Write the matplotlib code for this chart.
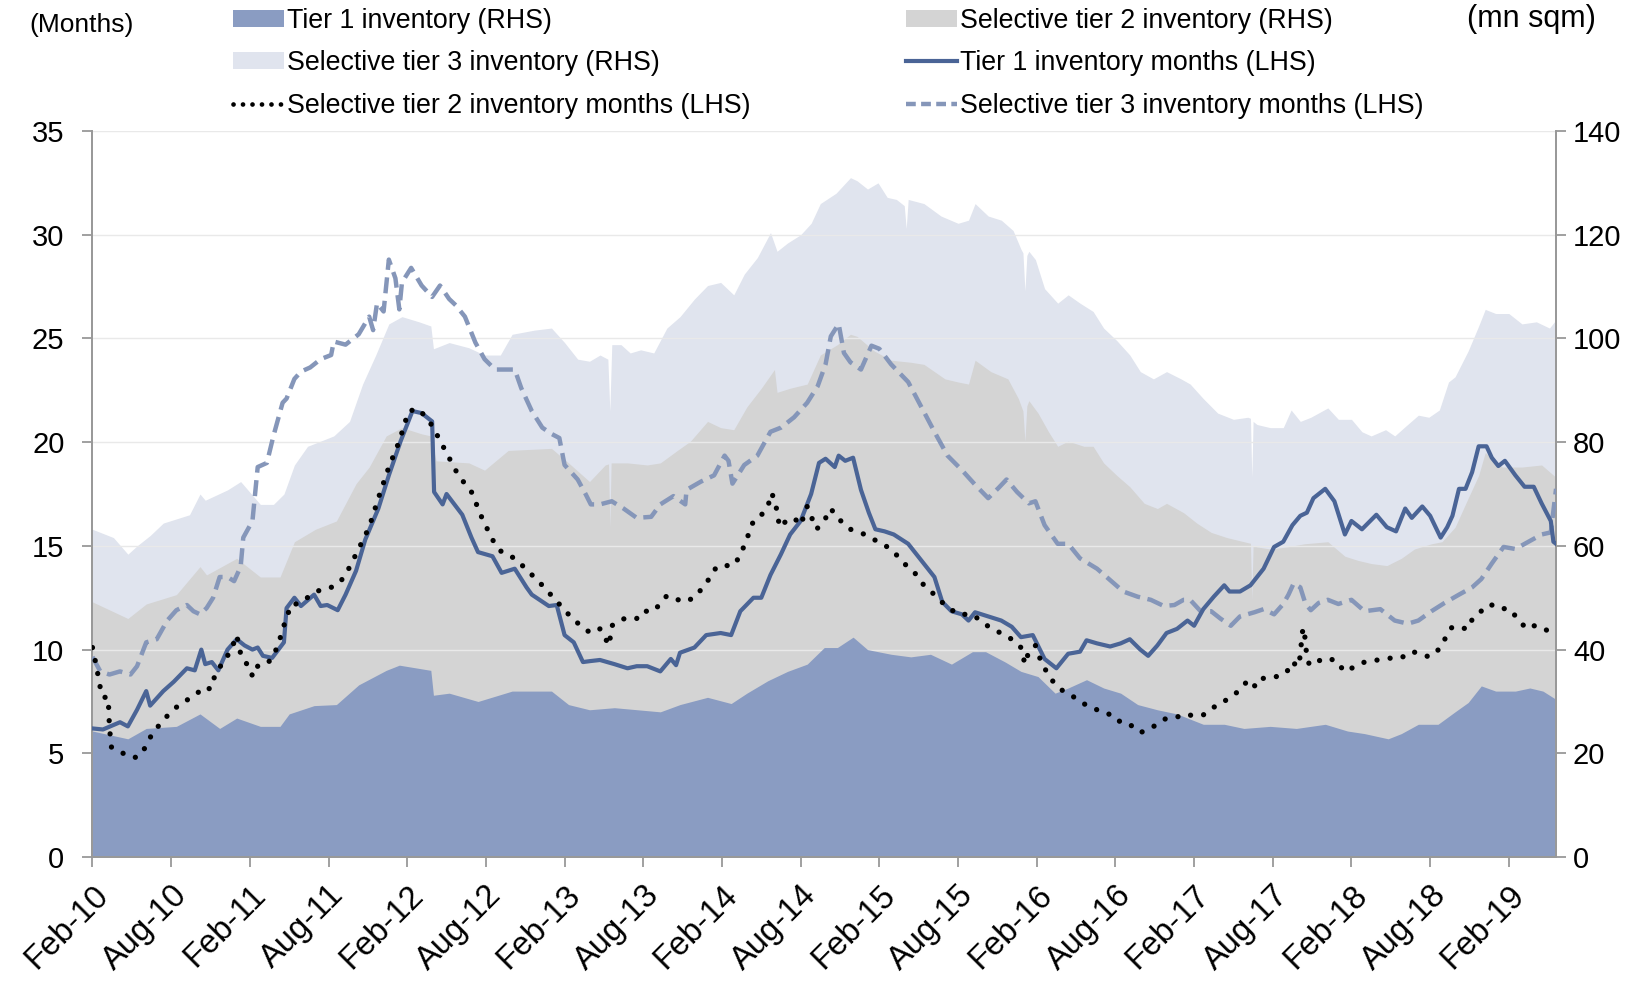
import matplotlib
matplotlib.use("Agg")
import matplotlib.pyplot as plt
from matplotlib.lines import Line2D
from matplotlib.patches import Patch
from matplotlib.transforms import ScaledTranslation

plt.rcParams['font.family'] = ['Liberation Sans', 'DejaVu Sans']

# ---------------- data (x = months since Feb-2010) ----------------
tick_pos = [0, 6, 12, 18, 24, 30, 36, 42, 48, 54, 60, 66, 72, 78, 84, 90, 96, 102, 108]
tick_labels = ["Feb-10", "Aug-10", "Feb-11", "Aug-11", "Feb-12", "Aug-12", "Feb-13",
               "Aug-13", "Feb-14", "Aug-14", "Feb-15", "Aug-15", "Feb-16", "Aug-16",
               "Feb-17", "Aug-17", "Feb-18", "Aug-18", "Feb-19"]

# Tier 1 inventory (mn sqm, RHS)
t1_inv_x = [0, 2.7, 4.1, 6.4, 8.2, 9.7, 11, 12.8, 14.3, 15, 16.9, 18.6, 20.3, 22.4, 23.4,
            25.8, 26.0, 27.2, 29.4, 32, 35, 36.3, 37.9, 39.8, 43.3, 44.8, 46.9, 48.7, 49.9,
            51.5, 53, 54.5, 55.8, 56.8, 58, 59.1, 60.9, 62.4, 63.9, 65.5, 67.1, 68.1, 69.6,
            70.8, 72.1, 73.4, 74.4, 75.8, 77.1, 78.4, 79.7, 81.2, 82.7, 84.7, 86.3, 87.8,
            89.8, 91.8, 94, 95.7, 97, 98.8, 99.8, 101.1, 102.6, 103.9, 104.9, 105.9, 107,
            108.5, 109.6, 110.6, 111.6]
t1_inv = [24.3, 22.8, 24.8, 25.2, 27.6, 24.8, 26.8, 25.2, 25.2, 27.6, 29.2, 29.4, 33.2, 36.0, 37.0,
          36.0, 31.2, 31.6, 30.0, 32.0, 32.0, 29.4, 28.4, 28.8, 28.0, 29.4, 30.8, 29.6, 31.6,
          34.0, 35.8, 37.2, 40.4, 40.4, 42.4, 40.0, 39.1, 38.6, 39.1, 37.2, 39.6, 39.6, 37.6,
          35.8, 34.8, 31.6, 32.6, 34.2, 32.6, 31.6, 29.4, 28.4, 27.6, 25.6, 25.6, 24.8,
          25.2, 24.8, 25.6, 24.3, 23.8, 22.8, 23.8, 25.6, 25.6, 28.0, 29.8, 33.0, 32.0,
          32.0, 32.6, 32.0, 30.4]

# Selective tier 2 inventory (mn sqm, RHS)
t2_inv_x = [0, 2.7, 4.1, 6.4, 8.2, 8.7, 11, 12.8, 14.3, 15.4, 17, 18.6, 20.1, 21.1, 22.4, 23.6,
            25.1, 25.8, 26.2, 28.7, 29.9, 31.7, 35, 36.3, 37.9, 39.1, 39.35, 39.45, 39.55, 39.8,
            40.8, 42.3, 43.3, 44.6, 45.6, 46.9, 47.9, 48.9, 49.9, 51, 52, 52.2, 53.2, 54.5,
            55.5, 56.8, 57.8, 58.3, 59.6, 60.9, 62.4, 63.4, 65, 66, 66.8, 67.3, 68.5, 69.8,
            70.6, 70.95, 71.1, 71.25, 71.4, 72.1, 72.9, 73.6, 74.4, 75.6, 76.3, 77.1, 78.1,
            79.1, 80.2, 81.2, 81.9, 83.2, 84.2, 85.3, 86.5, 87.8, 88.3, 88.4, 88.5, 88.8,
            89.8, 91.1, 92.4, 94.2, 95.5, 96.5, 97.5, 98.7, 99.8, 100.8, 102.1, 102.9,
            103.9, 104.9, 105.7, 106.2, 107.5, 109, 110.5, 111.6]
t2_inv = [49.2, 46.0, 48.8, 50.6, 56.0, 54.4, 57.6, 54.0, 54.0, 60.8, 63.2, 64.8, 72.0, 75.2, 81.2, 82.8,
          81.6, 81.2, 76.4, 76.0, 74.6, 78.4, 78.8, 76.0, 72.4, 75.6, 75.8, 63.6, 76.0, 76.0,
          76.0, 75.6, 76.0, 78.4, 80.2, 84.0, 82.8, 82.4, 86.8, 90.4, 94.0, 89.6, 90.4, 91.2,
          96.8, 98.8, 100.8, 100.4, 97.6, 95.8, 95.4, 95.0, 92.2, 91.6, 91.2, 95.8, 93.6, 92.2,
          88.4, 86.0, 80.2, 87.0, 88.0, 85.6, 82.0, 79.2, 80.2, 79.2, 79.2, 76.0, 73.6,
          71.4, 68.2, 67.2, 68.2, 66.4, 64.4, 62.6, 61.6, 60.8, 60.5, 49.6, 60.0, 59.8,
          59.4, 59.8, 60.4, 60.8, 58.0, 57.2, 56.6, 56.2, 57.6, 59.4, 60.4, 60.8,
          63.6, 69.2, 73.6, 78.0, 75.2, 75.2, 75.6, 73.2]

# Selective tier 3 inventory (mn sqm, RHS)
t3_inv_x = [0, 1.6, 2.7, 3.4, 4.4, 5.4, 7.4, 8.2, 8.6, 10.3, 11.3, 12.8, 13.8, 14.6, 15.4, 16.4,
            18.4, 19.6, 20.6, 21.6, 22.6, 23.6, 24.9, 25.8, 26.0, 27.2, 28.7, 29.9, 31.1, 32,
            33.7, 35, 36, 37, 37.9, 38.7, 39.3, 39.45, 39.6, 40.3, 41, 41.8, 42.8, 43.8, 44.8,
            45.9, 46.9, 47.9, 48.9, 49.7, 50.7, 51.7, 52.2, 53, 54, 54.8, 55.5, 56.7, 57.8,
            58.3, 59.1, 59.9, 60.6, 61.3, 61.9, 62.05, 62.2, 63.4, 64.7, 66, 66.8, 67.3, 68.3,
            69.3, 70.2, 70.8, 70.95, 71.1, 71.25, 71.4, 71.9, 72.6, 73.6, 74.4, 75.3, 76.3,
            77.1, 78.1, 79.1, 79.9, 80.9, 81.9, 83, 83.7, 84.7, 85.8, 87, 88.1, 88.3, 88.4,
            88.5, 88.8, 89.8, 90.8, 91.4, 92.1, 92.9, 94.2, 95, 96, 96.8, 97.5, 98.6, 99.3,
            100.1, 101.1, 101.9, 102.7, 103.4, 103.9, 104.9, 105.7, 106.2, 107, 108, 109,
            110.1, 111.1, 111.6]
t3_inv = [63.2, 61.6, 58.4, 60.0, 62.0, 64.4, 66.0, 70.0, 68.8, 70.8, 72.4, 68.0, 68.0, 70.0, 75.6, 79.2,
          81.2, 84.0, 91.2, 96.8, 102.8, 104.2, 103.2, 102.4, 98.0, 99.2, 98.2, 96.8, 96.8, 100.8,
          101.6, 102.0, 99.2, 96.0, 95.6, 96.8, 96.0, 86.0, 98.8, 98.8, 97.2, 97.8, 97.2, 102.0, 104.2,
          107.6, 110.2, 110.8, 108.4, 112.4, 115.6, 120.4, 116.8, 118.4, 120.0, 122.2, 126.0, 128.0, 131.0,
          130.4, 128.8, 130.0, 127.2, 126.8, 125.6, 121.2, 126.8, 126.0, 123.6, 122.2, 122.8, 126.0, 123.6,
          122.8, 120.8, 117.2, 116.5, 109.2, 116.0, 116.8, 115.2, 109.6, 106.8, 108.4, 106.8, 105.2,
          102.0, 99.6, 96.8, 93.6, 92.2, 93.6, 92.2, 91.2, 88.4, 85.6, 84.4, 84.8, 84.6, 73.2,
          84.0, 83.4, 82.8, 82.8, 86.2, 84.0, 84.8, 86.6, 84.4, 84.4, 82.0, 81.2, 82.4, 81.2,
          83.0, 85.2, 84.8, 86.2, 91.6, 92.6, 97.6, 102.4, 105.6, 104.8, 104.8, 102.8,
          103.2, 102.0, 103.6]

# Tier 1 inventory months (LHS)
t1_mon_x = [0, 0.8, 2.1, 2.7, 3.4, 4.1, 4.4, 5.4, 6.2, 7.2, 7.8, 8.3, 8.6, 9.1, 9.6, 10.3, 11,
            11.6, 12.2, 12.6, 13, 13.7, 14.6, 14.8, 15.4, 15.9, 16.9, 17.4, 17.9, 18.7, 19.3,
            20.1, 20.8, 21.8, 22.6, 23.5, 24.4, 25.1, 25.9, 26.05, 26.7, 27.0, 28.2, 28.9,
            29.4, 30.5, 31.2, 32.2, 33.1, 33.5, 34.8, 35.4, 36, 36.7, 37.4, 38, 38.7, 39.8,
            40.8, 41.5, 42.3, 43.3, 44.1, 44.5, 44.8, 45.9, 46.8, 47.9, 48.7, 49.4, 50.4, 51,
            51.7, 52.5, 53.2, 54, 54.8, 55.4, 55.9, 56.6, 56.9, 57.4, 58, 58.6, 59.2, 59.7,
            60.4, 61.1, 62.2, 63.2, 64.2, 64.8, 65.5, 66.3, 66.8, 67.3, 68.3, 69.3, 70.1,
            70.8, 71.7, 72.6, 73.5, 74.4, 75.3, 75.8, 76.6, 77.6, 78.4, 79.1, 79.9, 80.5,
            81.2, 81.9, 82.7, 83.5, 84, 84.7, 85.5, 86.3, 86.7, 87.5, 88.3, 89.3, 90.1, 90.8,
            91.5, 92.1, 92.6, 93.1, 94, 94.7, 95.1, 95.5, 96, 96.8, 97.9, 98.7, 99.4, 100.1,
            100.6, 101.4, 102, 102.5, 102.8, 103.3, 103.7, 104.2, 104.7, 105.2, 105.7, 106.3,
            106.7, 107.2, 107.7, 108.5, 109.2, 109.9, 110.5, 111.2, 111.4, 111.6]
t1_mon = [6.2, 6.15, 6.5, 6.3, 7.1, 8.0, 7.3, 8.0, 8.45, 9.1, 9.0, 10.0, 9.3, 9.4, 9.0, 10.0, 10.5,
          10.2, 10.0, 10.1, 9.7, 9.6, 10.35, 12.0, 12.5, 12.1, 12.65, 12.1, 12.15, 11.9, 12.65,
          13.8, 15.3, 16.8, 18.4, 20.05, 21.5, 21.4, 21.0, 17.6, 17.0, 17.5, 16.5, 15.4,
          14.7, 14.5, 13.7, 13.9, 13.0, 12.65, 12.1, 12.15, 10.7, 10.35, 9.4, 9.45, 9.5, 9.3,
          9.1, 9.2, 9.2, 8.95, 9.55, 9.25, 9.85, 10.1, 10.7, 10.8, 10.7, 11.85, 12.5, 12.5,
          13.6, 14.6, 15.55, 16.2, 17.5, 19.0, 19.2, 18.8, 19.35, 19.1, 19.25, 17.7, 16.6, 15.8,
          15.7, 15.55, 15.1, 14.3, 13.5, 12.3, 11.85, 11.7, 11.4, 11.8, 11.6, 11.4, 11.1,
          10.6, 10.7, 9.55, 9.1, 9.8, 9.9, 10.45, 10.3, 10.15, 10.3, 10.5, 10.0, 9.7,
          10.2, 10.8, 11.0, 11.4, 11.15, 11.95, 12.55, 13.1, 12.8, 12.8, 13.1, 13.9, 14.95, 15.2,
          16.0, 16.45, 16.6, 17.3, 17.75, 17.15, 16.35, 15.55, 16.2, 15.8, 16.5, 15.9, 15.7, 16.8,
          16.35, 16.9, 16.45, 15.8, 15.4, 15.9, 16.45, 17.75, 17.75, 18.55, 19.8, 19.8,
          19.25, 18.85, 19.1, 18.4, 17.85, 17.85, 17.05, 16.2, 15.2, 15.1]

# Selective tier 2 inventory months (LHS)
t2_mon_x = [0, 0.3, 0.6, 0.8, 1.2, 1.3, 1.45, 2.1, 2.7, 3.4, 3.9, 4.6, 5.7, 6.7, 7.3, 8, 8.5, 9.0,
            9.2, 9.6, 10, 10.5, 11, 11.3, 11.6, 12, 12.2, 12.6, 13, 13.6, 14, 14.5, 14.7, 15.2,
            15.6, 16.1, 16.8, 17.4, 18.2, 18.8, 19.3, 20.1, 21.1, 21.8, 22.6, 23.4, 24.1, 24.9,
            25.9, 26.9, 27.9, 28.9, 29.7, 30.5, 31.2, 32.2, 33.2, 34.3, 35.3, 36.3, 37.3, 38,
            38.7, 39.4, 39.6, 40.3, 41, 41.5, 41.9, 42.8, 43.8, 45.1, 45.9, 46.8, 47.6, 48.4,
            49, 49.7, 50.4, 51.2, 51.6, 51.8, 52.1, 52.4, 52.9, 53.5, 54, 54.5, 55.2, 55.7,
            56.3, 56.8, 57.8, 58.9, 59.9, 60.9, 61.9, 62.7, 63.4, 64.2, 65, 66, 67.1, 68.1,
            69.1, 70.1, 70.8, 71.1, 71.4, 71.9, 72.4, 73.2, 73.8, 74.4, 75.2, 75.8, 76.6, 77.4,
            78.1, 78.7, 79.3, 79.9, 80.5, 81.2, 81.9, 82.7, 83.3, 84, 84.7, 85.4, 86, 86.5,
            87.2, 87.7, 88.2, 88.7, 89.2, 89.8, 90.5, 91.1, 91.4, 92, 92.15, 92.3, 92.45, 92.6,
            92.8, 93.2, 94.2, 95, 95.4, 96, 97, 98, 99.1, 99.8, 100.5, 101.1, 101.9, 102.5,
            103, 103.3, 103.7, 104.3, 104.9, 105.2, 105.7, 106.2, 106.7, 107.4, 107.9, 108.4,
            108.9, 109.4, 109.9, 110.5, 111.2]
t2_mon = [10.1, 9.2, 8.15, 7.7, 7.7, 6.2, 5.3, 5.1, 4.85, 4.8, 5.15, 6.0, 6.8, 7.4, 7.6, 7.9, 8.2, 8.1,
          8.55, 9.0, 9.5, 9.85, 10.7, 9.8, 9.4, 9.2, 8.7, 9.2, 9.2, 9.5, 10.0, 10.9, 11.4, 12.2,
          12.2, 12.4, 12.65, 12.9, 13.0, 13.2, 13.6, 14.6, 15.9, 17.3, 18.8, 20.05, 21.5, 21.6,
          20.8, 19.6, 18.4, 17.6, 16.35, 15.3, 14.7, 14.4, 13.8, 13.1, 12.4, 11.7, 11.1, 10.8,
          11.0, 10.2, 11.15, 11.45, 11.55, 11.5, 11.85, 11.85, 12.6, 12.3, 12.5, 13.2, 14.0, 14.05,
          14.1, 15.0, 16.2, 16.6, 17.1, 17.55, 17.0, 15.9, 16.2, 16.35, 16.0, 16.9, 15.8, 16.1,
          16.8, 16.35, 15.8, 15.55, 15.2, 14.85, 14.15, 13.7, 13.1, 12.65, 12.15, 11.7, 11.7, 11.2,
          10.85, 10.5, 10.1, 9.3, 9.9, 10.2, 9.3, 8.5, 8.1, 7.85, 7.6, 7.3, 7.1, 6.95,
          6.55, 6.55, 6.3, 6.0, 6.15, 6.4, 6.7, 6.75, 6.9, 6.8, 6.85, 7.2, 7.35, 7.6,
          7.9, 8.25, 8.55, 8.2, 8.6, 8.7, 8.7, 8.95, 9.4, 9.2, 10.1, 11.05, 10.6, 9.65,
          9.25, 9.4, 9.6, 9.4, 8.95, 9.1, 9.4, 9.5, 9.6, 9.6, 9.9, 9.85, 9.65, 9.9,
          10.3, 10.8, 11.1, 11.05, 11.0, 11.45, 11.7, 12.1, 12.15, 11.95, 12.0, 11.7,
          11.3, 11.0, 11.15, 11.1, 10.8]

# Selective tier 3 inventory months (LHS)
t3_mon_x = [0, 0.6, 1.3, 2.1, 2.9, 3.4, 4.1, 4.9, 5.7, 6.4, 7.2, 7.7, 8.2, 8.7, 9.2, 9.7, 10.3,
            10.8, 11.3, 11.5, 12.2, 12.6, 13.3, 13.8, 14.5, 14.8, 15.4, 15.9, 16.6, 17.4, 18.2,
            18.4, 19.3, 20.3, 21.1, 21.4, 21.7, 22.2, 22.6, 23.1, 23.4, 23.6, 24.3, 25.1, 25.9,
            26.5, 27.2, 27.7, 28.4, 29.2, 29.9, 30.7, 31.5, 32.2, 32.7, 33.5, 34.3, 35, 35.6,
            36, 37, 37.6, 38, 38.7, 39.6, 40.5, 41.5, 42.6, 43.3, 44.3, 45.2, 45.3, 46.4, 47.4,
            48.2, 48.5, 48.8, 49.7, 50.7, 51.7, 52.5, 53.5, 54.5, 55.3, 55.9, 56.3, 56.9, 57.3,
            57.8, 58.6, 59.4, 60, 60.9, 62.2, 63.2, 64.2, 65.2, 66.3, 67.3, 68.3, 69.1, 69.7,
            70.5, 71.4, 71.9, 72.6, 73.6, 74.4, 75.3, 76.6, 77.6, 78.6, 79.7, 80.7, 81.7, 82.5,
            83.2, 83.7, 84.5, 85.3, 86, 86.8, 87.5, 88.6, 89.3, 90.1, 90.8, 91.2, 91.6, 92.1,
            92.5, 92.9, 93.5, 94.2, 95, 96, 97, 98.2, 99.3, 100.3, 101.1, 102.1, 103.1, 104.2,
            105.2, 105.9, 106.7, 107.6, 108.5, 109.5, 110.5, 111.2, 111.6]
t3_mon = [9.65, 8.95, 8.8, 8.95, 8.8, 9.2, 10.35, 10.5, 11.4, 11.9, 12.15, 11.85, 11.7, 12.0, 12.5, 13.5, 13.5,
          13.3, 14.0, 15.4, 16.2, 18.8, 19.0, 20.3, 21.9, 22.1, 23.05, 23.4, 23.6, 24.0, 24.2,
          24.85, 24.7, 25.2, 26.05, 25.4, 26.7, 26.3, 28.8, 27.9, 26.4, 27.7, 28.4, 27.55, 27.0,
          27.55, 26.9, 26.6, 26.05, 24.8, 24.0, 23.5, 23.5, 23.5, 22.6, 21.5, 20.7, 20.4, 20.2,
          18.9, 18.2, 17.5, 17.0, 17.0, 17.15, 16.8, 16.35, 16.4, 17.0, 17.4, 17.0, 17.7, 18.1, 18.4,
          19.35, 19.1, 18.0, 18.9, 19.35, 20.5, 20.7, 21.2, 21.9, 22.7, 23.75, 25.1, 25.7, 24.3,
          23.85, 23.5, 24.65, 24.5, 23.75, 22.9, 21.7, 20.5, 19.35, 18.65, 17.95, 17.3, 17.8, 18.2,
          17.6, 17.05, 17.15, 16.0, 15.1, 15.1, 14.4, 13.9, 13.35, 12.8, 12.55, 12.4, 12.1, 12.15,
          12.4, 12.4, 11.85, 11.85, 11.5, 11.15, 11.6, 11.8, 11.95, 11.7, 12.2, 12.65, 13.2, 13.0,
          12.2, 11.9, 12.25, 12.4, 12.2, 12.4, 11.85, 11.95, 11.4, 11.25, 11.4, 11.85, 12.25, 12.65,
          13.0, 13.4, 14.15, 14.95, 14.85, 15.2, 15.55, 15.65, 17.75]

# ---------------- styling ----------------
C_T1 = '#8a9cc2'
C_T2 = '#d4d4d4'
C_T3 = '#e0e4ee'
C_L1 = '#4a6496'
C_L3 = '#8596b9'
C_AX = '#999999'
FS_LEG = 19.3
FS_TICK = 21
FS_XTICK = 23.5

fig = plt.figure(figsize=(16.48, 9.84), dpi=100)
ax = fig.add_axes([0.0561, 0.129, 0.8881, 0.7379])
ax2 = ax.twinx()

ax2.fill_between(t3_inv_x, t3_inv, 0, color=C_T3, lw=0, zorder=1)
ax2.fill_between(t2_inv_x, t2_inv, 0, color=C_T2, lw=0, zorder=1.1)
for g in range(20, 141, 20):
    ax2.axhline(g, color='#e9e9e9', lw=1.0, zorder=1.5)
ax2.fill_between(t1_inv_x, t1_inv, 0, color=C_T1, lw=0, zorder=2)

ax.set_zorder(ax2.get_zorder() + 1)
ax.patch.set_visible(False)

ax.plot(t1_mon_x, t1_mon, color=C_L1, lw=3.0, solid_joinstyle='round', zorder=5)
ax.plot(t2_mon_x, t2_mon, color='black', lw=3.8, linestyle=(0, (0.01, 2.5)),
        dash_capstyle='round', zorder=6)
ax.plot(t3_mon_x, t3_mon, color=C_L3, lw=3.2, linestyle=(0, (3.6, 1.7)), zorder=4)

ax.set_xlim(0, 111.6)
ax.set_ylim(0, 35)
ax2.set_ylim(0, 140)
ax.set_yticks(range(0, 36, 5))
ax2.set_yticks(range(0, 141, 20))

ax.set_xticks(tick_pos)
ax.set_xticklabels(tick_labels, rotation=45, ha='right', va='top', rotation_mode='anchor',
                   fontsize=FS_XTICK)
offset = ScaledTranslation(6 / 100, 0, fig.dpi_scale_trans)
for lab in ax.get_xticklabels():
    lab.set_transform(lab.get_transform() + offset)

for a in (ax, ax2):
    a.spines['top'].set_visible(False)
    for s in ('left', 'right', 'bottom'):
        a.spines[s].set_color(C_AX)
        a.spines[s].set_linewidth(1.3)
    a.tick_params(colors=C_AX, labelcolor='black', width=1.3)
    a.tick_params(axis='y', labelsize=FS_TICK)
ax.tick_params(axis='y', length=7.2, pad=13)
ax.tick_params(axis='x', length=7.2, pad=9)
ax2.tick_params(axis='y', length=7.2, pad=5)

fig.text(29 / 1648, 1 - 25 / 984, '(Months)', fontsize=19, va='center', ha='left')
fig.text(1596 / 1648, 1 - 19 / 984, '(mn sqm)', fontsize=22, va='center', ha='right')

h_t1 = Patch(color=C_T1, lw=0)
h_t2 = Patch(color=C_T2, lw=0)
h_t3 = Patch(color=C_T3, lw=0)
h_l1 = Line2D([], [], color=C_L1, lw=3.0)
h_l2 = Line2D([], [], color='black', lw=3.4, linestyle=(0, (0.01, 2.0)), dash_capstyle='round')
h_l3 = Line2D([], [], color=C_L3, lw=3.2, linestyle=(0, (2.2, 1.2)))

kw = dict(frameon=False, fontsize=FS_LEG, handlelength=1.9, handleheight=0.6,
          handletextpad=0.1, labelspacing=0.61, borderpad=0, borderaxespad=0, loc='upper left')
leg1 = fig.legend([h_t1, h_t3, h_l2],
                  ['Tier 1 inventory (RHS)', 'Selective tier 3 inventory (RHS)',
                   'Selective tier 2 inventory months (LHS)'],
                  bbox_to_anchor=(233 / 1648, 0.992), **kw)
leg2 = fig.legend([h_t2, h_l1, h_l3],
                  ['Selective tier 2 inventory (RHS)', 'Tier 1 inventory months (LHS)',
                   'Selective tier 3 inventory months (LHS)'],
                  bbox_to_anchor=(906 / 1648, 0.992), **kw)

fig.savefig('out.png', dpi=100)
